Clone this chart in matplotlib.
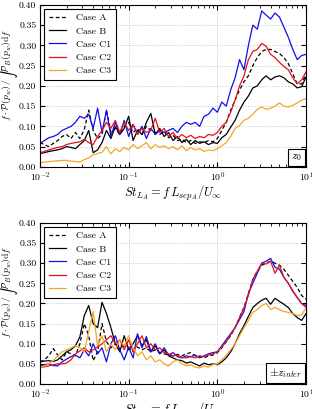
import numpy as np
import matplotlib
matplotlib.use('Agg')
import matplotlib.pyplot as plt

plt.rcParams['font.family'] = 'serif'
plt.rcParams['font.serif'] = ['cmr10', 'DejaVu Serif']
plt.rcParams['mathtext.fontset'] = 'cm'
plt.rcParams['axes.formatter.use_mathtext'] = True

# ---------------------------------------------------------------------------
# Datos, St en escala log: 10^-2 ... 10^1, paso 0.05
# ---------------------------------------------------------------------------
st = np.logspace(-2, 1, 61)

casos = ['Case A', 'Case B', 'Case C1', 'Case C2', 'Case C3']

# Panel superior (z0)
z0_A = [0.060, 0.055, 0.050, 0.058, 0.065, 0.075, 0.080, 0.070, 0.085, 0.070,
        0.092, 0.140, 0.090, 0.070, 0.080, 0.140, 0.085, 0.095, 0.080, 0.100,
        0.110, 0.085, 0.095, 0.080, 0.100, 0.090, 0.085, 0.080, 0.088, 0.072,
        0.078, 0.065, 0.068, 0.060, 0.065, 0.058, 0.062, 0.060, 0.065, 0.062,
        0.070, 0.090, 0.110, 0.140, 0.165, 0.190, 0.210, 0.225, 0.250, 0.270,
        0.285, 0.290, 0.290, 0.285, 0.280, 0.270, 0.255, 0.230, 0.205, 0.205,
        0.230]
z0_B = [0.033, 0.035, 0.038, 0.040, 0.042, 0.045, 0.050, 0.048, 0.045, 0.055,
        0.065, 0.090, 0.035, 0.042, 0.060, 0.090, 0.070, 0.100, 0.080, 0.095,
        0.125, 0.065, 0.090, 0.080, 0.110, 0.132, 0.080, 0.095, 0.075, 0.085,
        0.065, 0.075, 0.060, 0.068, 0.055, 0.065, 0.058, 0.062, 0.055, 0.060,
        0.058, 0.072, 0.080, 0.098, 0.115, 0.140, 0.160, 0.175, 0.195, 0.200,
        0.215, 0.225, 0.215, 0.222, 0.225, 0.220, 0.210, 0.205, 0.195, 0.198,
        0.222]
z0_C1 = [0.058, 0.065, 0.072, 0.075, 0.080, 0.090, 0.095, 0.100, 0.110, 0.125,
         0.120, 0.130, 0.095, 0.145, 0.085, 0.140, 0.075, 0.110, 0.080, 0.115,
         0.075, 0.105, 0.080, 0.100, 0.070, 0.095, 0.080, 0.090, 0.085, 0.090,
         0.095, 0.085, 0.100, 0.110, 0.105, 0.110, 0.100, 0.125, 0.130, 0.145,
         0.135, 0.160, 0.150, 0.190, 0.220, 0.265, 0.240, 0.300, 0.350, 0.340,
         0.385, 0.375, 0.365, 0.380, 0.370, 0.345, 0.320, 0.290, 0.265, 0.275,
         0.278]
z0_C2 = [0.035, 0.038, 0.042, 0.045, 0.048, 0.050, 0.055, 0.058, 0.060, 0.062,
         0.068, 0.060, 0.055, 0.075, 0.090, 0.110, 0.095, 0.115, 0.085, 0.110,
         0.090, 0.105, 0.080, 0.095, 0.085, 0.090, 0.120, 0.085, 0.095, 0.075,
         0.085, 0.070, 0.080, 0.072, 0.078, 0.070, 0.075, 0.072, 0.080, 0.078,
         0.085, 0.100, 0.110, 0.135, 0.165, 0.200, 0.225, 0.265, 0.285, 0.290,
         0.305, 0.298, 0.278, 0.270, 0.258, 0.248, 0.240, 0.220, 0.205, 0.215,
         0.235]
z0_C3 = [0.010, 0.012, 0.013, 0.014, 0.015, 0.016, 0.016, 0.014, 0.013, 0.012,
         0.018, 0.022, 0.030, 0.033, 0.036, 0.050, 0.032, 0.045, 0.038, 0.048,
         0.042, 0.055, 0.045, 0.052, 0.060, 0.045, 0.055, 0.048, 0.052, 0.045,
         0.050, 0.042, 0.052, 0.040, 0.048, 0.042, 0.045, 0.038, 0.042, 0.040,
         0.045, 0.052, 0.060, 0.075, 0.095, 0.102, 0.115, 0.120, 0.130, 0.142,
         0.148, 0.142, 0.145, 0.150, 0.158, 0.150, 0.148, 0.152, 0.158, 0.165,
         0.168]

# Panel inferior (±z_inter)
zi_A = [0.055, 0.060, 0.070, 0.088, 0.072, 0.060, 0.080, 0.075, 0.070, 0.100,
        0.150, 0.120, 0.058, 0.080, 0.150, 0.105, 0.090, 0.100, 0.085, 0.095,
        0.090, 0.080, 0.092, 0.085, 0.090, 0.080, 0.085, 0.078, 0.075, 0.072,
        0.070, 0.074, 0.070, 0.075, 0.078, 0.070, 0.068, 0.065, 0.070, 0.072,
        0.078, 0.090, 0.105, 0.120, 0.140, 0.165, 0.190, 0.225, 0.260, 0.280,
        0.295, 0.300, 0.305, 0.300, 0.295, 0.285, 0.270, 0.255, 0.240, 0.220,
        0.210]
zi_B = [0.055, 0.057, 0.058, 0.056, 0.060, 0.070, 0.080, 0.085, 0.095, 0.117,
        0.170, 0.195, 0.150, 0.140, 0.203, 0.175, 0.140, 0.100, 0.080, 0.120,
        0.085, 0.100, 0.120, 0.095, 0.110, 0.080, 0.095, 0.075, 0.085, 0.070,
        0.065, 0.060, 0.058, 0.052, 0.055, 0.050, 0.045, 0.052, 0.048, 0.050,
        0.048, 0.055, 0.065, 0.080, 0.100, 0.125, 0.145, 0.168, 0.190, 0.200,
        0.208, 0.213, 0.198, 0.213, 0.205, 0.198, 0.190, 0.175, 0.165, 0.158,
        0.175]
zi_C1 = [0.045, 0.048, 0.050, 0.046, 0.045, 0.055, 0.062, 0.068, 0.072, 0.065,
         0.085, 0.070, 0.100, 0.075, 0.090, 0.055, 0.100, 0.120, 0.085, 0.060,
         0.092, 0.065, 0.125, 0.090, 0.118, 0.080, 0.100, 0.075, 0.090, 0.072,
         0.078, 0.068, 0.065, 0.070, 0.068, 0.072, 0.065, 0.070, 0.075, 0.078,
         0.080, 0.095, 0.110, 0.125, 0.140, 0.160, 0.180, 0.225, 0.250, 0.275,
         0.300, 0.305, 0.312, 0.290, 0.285, 0.265, 0.250, 0.230, 0.215, 0.200,
         0.195]
zi_C2 = [0.040, 0.043, 0.045, 0.048, 0.050, 0.050, 0.052, 0.060, 0.075, 0.082,
         0.090, 0.080, 0.085, 0.092, 0.100, 0.110, 0.120, 0.100, 0.110, 0.085,
         0.110, 0.080, 0.100, 0.120, 0.090, 0.100, 0.085, 0.090, 0.078, 0.075,
         0.070, 0.072, 0.066, 0.065, 0.068, 0.065, 0.070, 0.068, 0.072, 0.075,
         0.080, 0.092, 0.105, 0.122, 0.140, 0.165, 0.190, 0.220, 0.260, 0.280,
         0.300, 0.298, 0.305, 0.275, 0.295, 0.265, 0.250, 0.232, 0.215, 0.200,
         0.190]
zi_C3 = [0.040, 0.045, 0.050, 0.058, 0.070, 0.080, 0.085, 0.090, 0.095, 0.090,
         0.080, 0.130, 0.180, 0.095, 0.120, 0.080, 0.100, 0.085, 0.110, 0.095,
         0.120, 0.090, 0.070, 0.080, 0.060, 0.070, 0.055, 0.060, 0.050, 0.045,
         0.055, 0.060, 0.050, 0.045, 0.048, 0.042, 0.040, 0.045, 0.042, 0.048,
         0.050, 0.060, 0.072, 0.085, 0.100, 0.120, 0.140, 0.158, 0.178, 0.185,
         0.195, 0.200, 0.185, 0.190, 0.185, 0.180, 0.178, 0.175, 0.170, 0.172,
         0.190]

estilos = [dict(color='k', ls=(0, (3, 2))),
           dict(color='k', ls='-'),
           dict(color='#1010e8', ls='-'),
           dict(color='#e8101c', ls='-'),
           dict(color='#f5a623', ls='-')]


def dibujar_panel(ax, series, etiqueta):
    for nombre, y, est in zip(casos, series, estilos):
        ax.plot(st, y, lw=0.9, label=nombre, **est)
    ax.set_xscale('log')
    ax.set_xlim(1e-2, 1e1)
    ax.set_ylim(0, 0.40)
    ax.set_yticks(np.arange(0, 0.401, 0.05))
    ax.set_yticklabels([f'{v:.2f}' for v in np.arange(0, 0.401, 0.05)])
    ax.grid(True, which='major', ls=':', color='#bbbbbb', lw=0.6)
    ax.tick_params(which='both', direction='in', top=True, right=True,
                   labelsize=7, pad=2.5)
    ax.set_xlabel(r'$St_{L_A} = f\,L_{sep_A}/U_\infty$', fontsize=9, labelpad=0)
    # etiqueta y con alineación centrada para controlar su posición exacta
    ax.set_ylabel(r'$f\cdot\mathcal{P}(p_w)\,/\,\int\mathcal{P}_B(p_w)\mathrm{d}f$',
                  fontsize=7, va='center', ha='center')
    ax.yaxis.set_label_coords(-0.125, 0.57)
    ley = ax.legend(loc='upper left', fontsize=7, fancybox=False,
                    edgecolor='k', framealpha=1, handlelength=1.75,
                    handletextpad=1.1, borderpad=0.5, labelspacing=0.45,
                    borderaxespad=0.4)
    ley.get_frame().set_linewidth(0.8)
    ax.text(0.985, 0.025, etiqueta, transform=ax.transAxes, ha='right',
            va='bottom', fontsize=8,
            bbox=dict(boxstyle='square,pad=0.3', fc='white', ec='k', lw=0.8))


fig = plt.figure(figsize=(3.12, 4.09), dpi=100)
ax1 = fig.add_axes([0.128, 0.592, 0.853, 0.396])
ax2 = fig.add_axes([0.128, 0.061, 0.853, 0.394])

dibujar_panel(ax1, [z0_A, z0_B, z0_C1, z0_C2, z0_C3], r'$z_0$')
dibujar_panel(ax2, [zi_A, zi_B, zi_C1, zi_C2, zi_C3], r'$\pm z_{inter}$')

fig.savefig('out.png', dpi=100)
